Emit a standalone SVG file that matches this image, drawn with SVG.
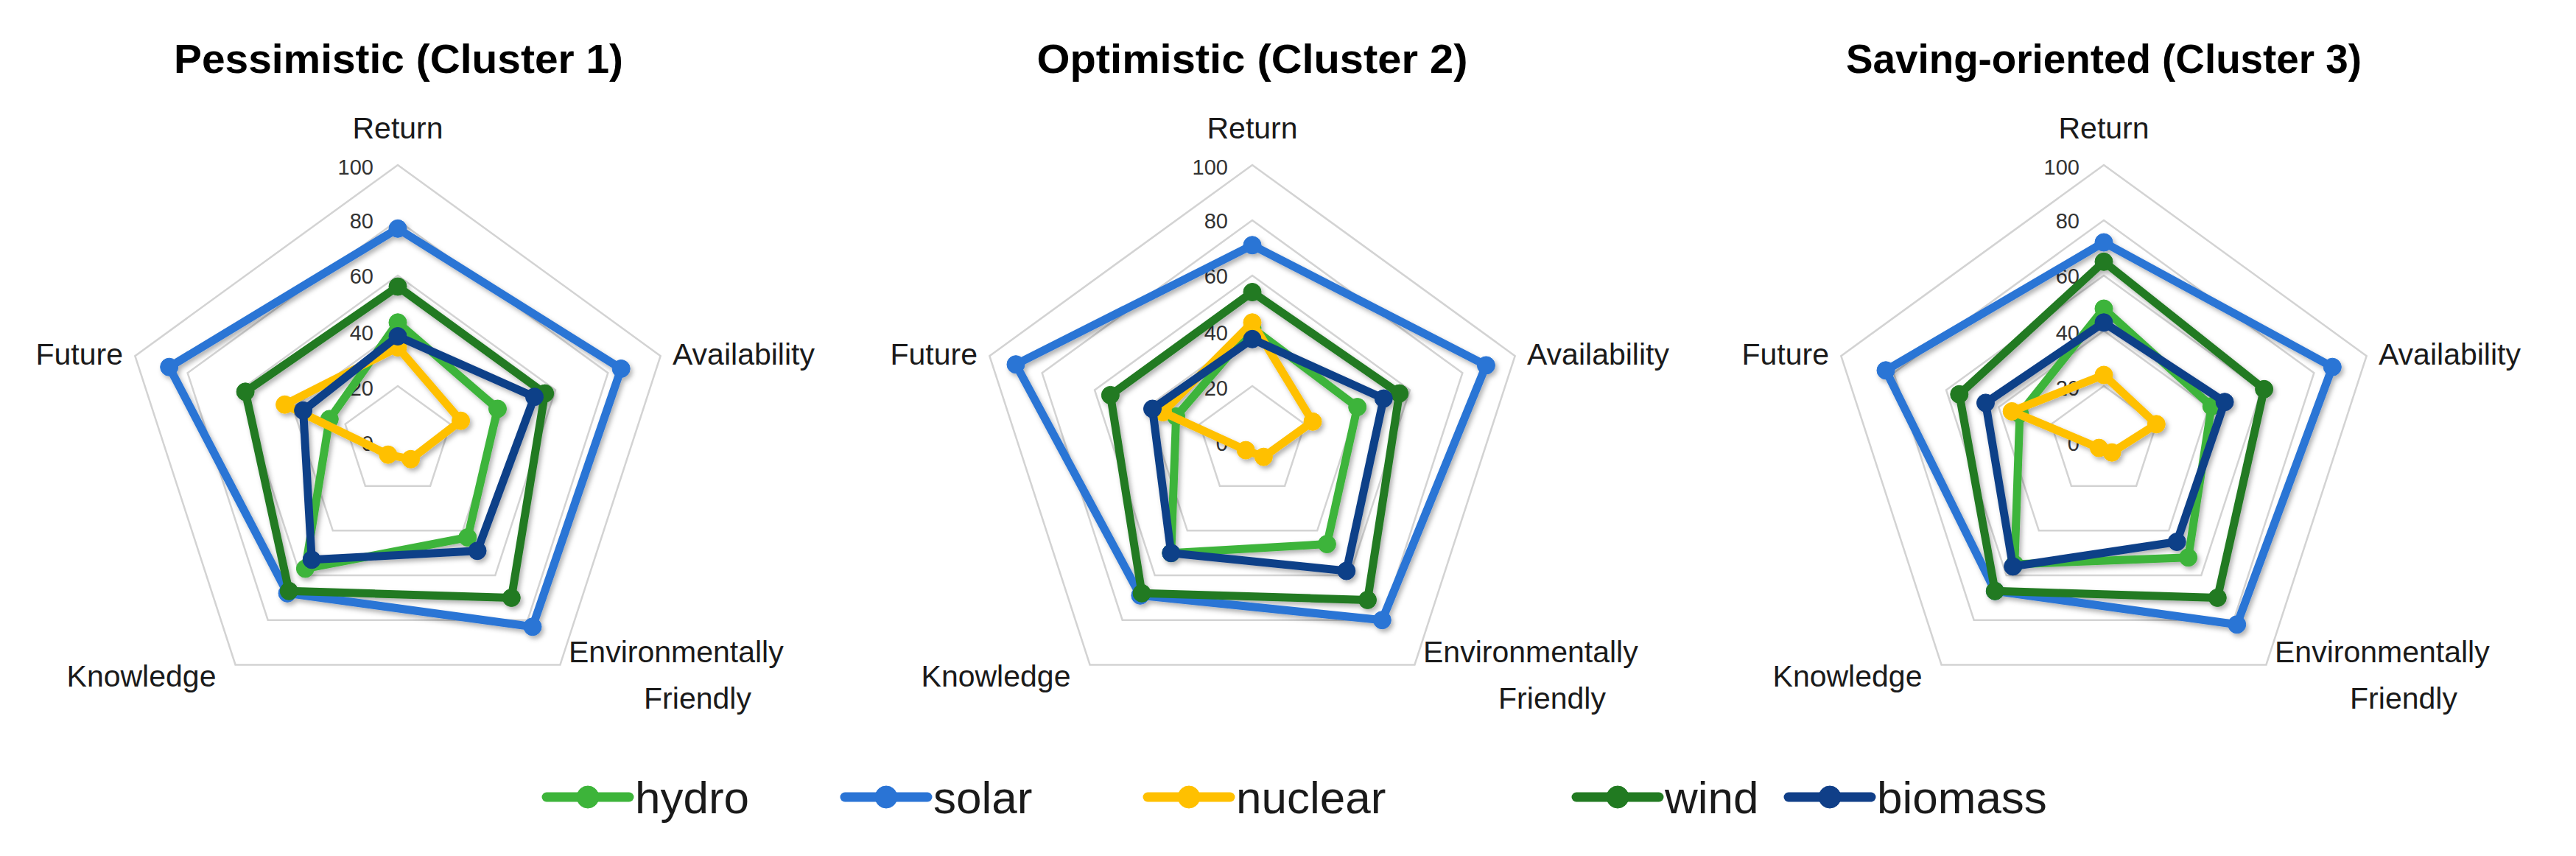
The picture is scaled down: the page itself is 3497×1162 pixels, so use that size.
<svg xmlns="http://www.w3.org/2000/svg" xmlns:xlink="http://www.w3.org/1999/xlink" width="3497" height="1162" viewBox="0 0 3497 1162">
<style>
text{font-family:"Liberation Sans",Arial,sans-serif;fill:#1a1a1a}
.title{font-size:56px;font-weight:bold;text-anchor:middle;fill:#000}
.ax{font-size:41px}
.tk{font-size:29px;text-anchor:end;fill:#333}
.lg{font-size:62px}
.grid{fill:none;stroke:#d3d3d3;stroke-width:2.5;vector-effect:non-scaling-stroke}
.s{fill:none;stroke-width:11;stroke-linejoin:round}
.hydro{stroke:#3db43a;fill:#3db43a}
.solar{stroke:#2a74d5;fill:#2a74d5}
.nuclear{stroke:#ffc000;fill:#ffc000}
.wind{stroke:#217a21;fill:#217a21}
.biomass{stroke:#103f88;fill:#103f88}
polygon.s{fill:none}
</style>
<defs>
<polygon id="pent" class="grid" points="0,-1 0.9511,-0.309 0.5878,0.809 -0.5878,0.809 -0.9511,-0.309"/>
<filter id="sh" x="-10%" y="-10%" width="120%" height="120%"><feDropShadow dx="3" dy="4" stdDeviation="3" flood-color="#000" flood-opacity="0.3"/></filter>
<g id="grid">
<use xlink:href="#pent" transform="scale(75)"/>
<use xlink:href="#pent" transform="scale(150)"/>
<use xlink:href="#pent" transform="scale(225)"/>
<use xlink:href="#pent" transform="scale(300)"/>
<use xlink:href="#pent" transform="scale(375)"/>
<text class="tk" x="-33" y="13">0</text>
<text class="tk" x="-33" y="-62">20</text>
<text class="tk" x="-33" y="-137">40</text>
<text class="tk" x="-33" y="-214">60</text>
<text class="tk" x="-33" y="-289">80</text>
<text class="tk" x="-33" y="-362">100</text>
<text class="ax" x="0" y="-411" text-anchor="middle">Return</text>
<text class="ax" x="373" y="-104">Availability</text>
<text class="ax" x="232" y="300">Environmentally</text>
<text class="ax" x="407" y="363" text-anchor="middle">Friendly</text>
<text class="ax" x="-348" y="333" text-anchor="middle">Knowledge</text>
<text class="ax" x="-373" y="-104" text-anchor="end">Future</text>
</g>
</defs>

<g id="chart1">
<text class="title" x="541" y="99" textLength="610" lengthAdjust="spacingAndGlyphs">Pessimistic (Cluster 1)</text>
<use xlink:href="#grid" transform="translate(540,599)"/>
<g filter="url(#sh)">
<g id="c1-hydro" class="hydro"><polygon class="s" points="540,437.8 675.5,555 634.8,729.5 414.4,771.9 447.3,568.9"/><circle cx="540" cy="437.8" r="12"/><circle cx="675.5" cy="555" r="12"/><circle cx="634.8" cy="729.5" r="12"/><circle cx="414.4" cy="771.9" r="12"/><circle cx="447.3" cy="568.9" r="12"/></g>
<g id="c1-solar" class="solar"><polygon class="s" points="540,310.3 843.2,500.5 723,850.8 390.1,805.3 229.7,498.2"/><circle cx="540" cy="310.3" r="12"/><circle cx="843.2" cy="500.5" r="12"/><circle cx="723" cy="850.8" r="12"/><circle cx="390.1" cy="805.3" r="12"/><circle cx="229.7" cy="498.2" r="12"/></g>
<g id="c1-nuclear" class="nuclear"><polygon class="s" points="540,471.5 625.6,571.2 557.6,623.3 526.8,617.2 386.6,549.2"/><circle cx="540" cy="471.5" r="12"/><circle cx="625.6" cy="571.2" r="12"/><circle cx="557.6" cy="623.3" r="12"/><circle cx="526.8" cy="617.2" r="12"/><circle cx="386.6" cy="549.2" r="12"/></g>
<g id="c1-wind" class="wind"><polygon class="s" points="540,389 739.7,534.1 694.3,811.4 392.3,802.3 333.1,531.8"/><circle cx="540" cy="389" r="12"/><circle cx="739.7" cy="534.1" r="12"/><circle cx="694.3" cy="811.4" r="12"/><circle cx="392.3" cy="802.3" r="12"/><circle cx="333.1" cy="531.8" r="12"/></g>
<g id="c1-biomass" class="biomass"><polygon class="s" points="540,456.5 725.5,538.7 648,747.7 423.2,759.8 411.6,557.3"/><circle cx="540" cy="456.5" r="12"/><circle cx="725.5" cy="538.7" r="12"/><circle cx="648" cy="747.7" r="12"/><circle cx="423.2" cy="759.8" r="12"/><circle cx="411.6" cy="557.3" r="12"/></g>
</g>
</g>

<g id="chart2">
<text class="title" x="1700" y="99" textLength="585" lengthAdjust="spacingAndGlyphs">Optimistic (Cluster 2)</text>
<use xlink:href="#grid" transform="translate(1700,599)"/>
<g filter="url(#sh)">
<g id="c2-hydro" class="hydro"><polygon class="s" points="1700,445.3 1842.7,552.6 1801.4,738.6 1589.8,750.7 1596.6,565.4"/><circle cx="1700" cy="445.3" r="12"/><circle cx="1842.7" cy="552.6" r="12"/><circle cx="1801.4" cy="738.6" r="12"/><circle cx="1589.8" cy="750.7" r="12"/><circle cx="1596.6" cy="565.4" r="12"/></g>
<g id="c2-solar" class="solar"><polygon class="s" points="1700,332.8 2017.4,495.9 1876.3,841.7 1547.9,808.3 1379,494.7"/><circle cx="1700" cy="332.8" r="12"/><circle cx="2017.4" cy="495.9" r="12"/><circle cx="1876.3" cy="841.7" r="12"/><circle cx="1547.9" cy="808.3" r="12"/><circle cx="1379" cy="494.7" r="12"/></g>
<g id="c2-nuclear" class="nuclear"><polygon class="s" points="1700,437.8 1782,572.3 1715.4,620.2 1691.2,611.1 1578.7,559.6"/><circle cx="1700" cy="437.8" r="12"/><circle cx="1782" cy="572.3" r="12"/><circle cx="1715.4" cy="620.2" r="12"/><circle cx="1691.2" cy="611.1" r="12"/><circle cx="1578.7" cy="559.6" r="12"/></g>
<g id="c2-wind" class="wind"><polygon class="s" points="1700,396.5 1899.7,534.1 1856.5,814.4 1550.1,805.3 1507.4,536.4"/><circle cx="1700" cy="396.5" r="12"/><circle cx="1899.7" cy="534.1" r="12"/><circle cx="1856.5" cy="814.4" r="12"/><circle cx="1550.1" cy="805.3" r="12"/><circle cx="1507.4" cy="536.4" r="12"/></g>
<g id="c2-biomass" class="biomass"><polygon class="s" points="1700,460.3 1878.3,541.1 1827.8,775 1589.8,750.7 1564.5,555"/><circle cx="1700" cy="460.3" r="12"/><circle cx="1878.3" cy="541.1" r="12"/><circle cx="1827.8" cy="775" r="12"/><circle cx="1589.8" cy="750.7" r="12"/><circle cx="1564.5" cy="555" r="12"/></g>
</g>
</g>

<g id="chart3">
<text class="title" x="2856" y="99" textLength="700" lengthAdjust="spacingAndGlyphs">Saving-oriented (Cluster 3)</text>
<use xlink:href="#grid" transform="translate(2856,599)"/>
<g filter="url(#sh)">
<g id="c3-hydro" class="hydro"><polygon class="s" points="2856,419 3002.2,551.5 2970.6,756.8 2734.8,765.9 2741.9,561.9"/><circle cx="2856" cy="419" r="12"/><circle cx="3002.2" cy="551.5" r="12"/><circle cx="2970.6" cy="756.8" r="12"/><circle cx="2734.8" cy="765.9" r="12"/><circle cx="2741.9" cy="561.9" r="12"/></g>
<g id="c3-solar" class="solar"><polygon class="s" points="2856,329 3166.3,498.2 3036.7,847.8 2708.3,802.3 2560,502.8"/><circle cx="2856" cy="329" r="12"/><circle cx="3166.3" cy="498.2" r="12"/><circle cx="3036.7" cy="847.8" r="12"/><circle cx="2708.3" cy="802.3" r="12"/><circle cx="2560" cy="502.8" r="12"/></g>
<g id="c3-nuclear" class="nuclear"><polygon class="s" points="2856,509 2927.3,575.8 2867,614.2 2849.4,608.1 2731.2,558.4"/><circle cx="2856" cy="509" r="12"/><circle cx="2927.3" cy="575.8" r="12"/><circle cx="2867" cy="614.2" r="12"/><circle cx="2849.4" cy="608.1" r="12"/><circle cx="2731.2" cy="558.4" r="12"/></g>
<g id="c3-wind" class="wind"><polygon class="s" points="2856,355.3 3073.6,528.3 3010.3,811.4 2708.3,802.3 2659.8,535.3"/><circle cx="2856" cy="355.3" r="12"/><circle cx="3073.6" cy="528.3" r="12"/><circle cx="3010.3" cy="811.4" r="12"/><circle cx="2708.3" cy="802.3" r="12"/><circle cx="2659.8" cy="535.3" r="12"/></g>
<g id="c3-biomass" class="biomass"><polygon class="s" points="2856,437.8 3020.1,545.7 2955.2,735.5 2732.6,768.9 2695.5,546.9"/><circle cx="2856" cy="437.8" r="12"/><circle cx="3020.1" cy="545.7" r="12"/><circle cx="2955.2" cy="735.5" r="12"/><circle cx="2732.6" cy="768.9" r="12"/><circle cx="2695.5" cy="546.9" r="12"/></g>
</g>
</g>

<g id="legend">
<g class="hydro"><line x1="742" y1="1082" x2="854" y2="1082" stroke-width="13" stroke-linecap="round"/><circle cx="798" cy="1082" r="15"/></g>
<text class="lg" x="862" y="1104">hydro</text>
<g class="solar"><line x1="1147" y1="1082" x2="1259" y2="1082" stroke-width="13" stroke-linecap="round"/><circle cx="1203" cy="1082" r="15"/></g>
<text class="lg" x="1267" y="1104">solar</text>
<g class="nuclear"><line x1="1558" y1="1082" x2="1670" y2="1082" stroke-width="13" stroke-linecap="round"/><circle cx="1614" cy="1082" r="15"/></g>
<text class="lg" x="1678" y="1104">nuclear</text>
<g class="wind"><line x1="2140" y1="1082" x2="2252" y2="1082" stroke-width="13" stroke-linecap="round"/><circle cx="2196" cy="1082" r="15"/></g>
<text class="lg" x="2260" y="1104">wind</text>
<g class="biomass"><line x1="2428" y1="1082" x2="2540" y2="1082" stroke-width="13" stroke-linecap="round"/><circle cx="2484" cy="1082" r="15"/></g>
<text class="lg" x="2548" y="1104">biomass</text>
</g>
</svg>
